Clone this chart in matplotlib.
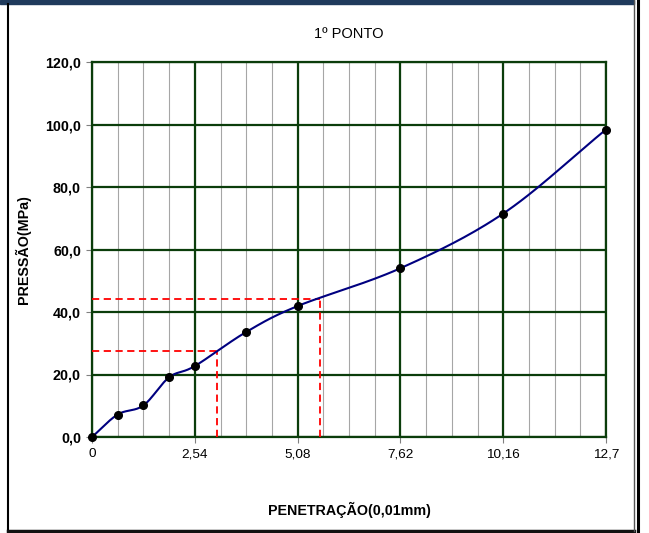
import numpy as np
import matplotlib.pyplot as plt
from matplotlib.lines import Line2D
from matplotlib.patches import Rectangle

plt.rcParams['font.family'] = ['Liberation Sans', 'DejaVu Sans']

# data
penetracao = [0, 0.635, 1.27, 1.905, 2.54, 3.81, 5.08, 7.62, 10.16, 12.7]
pressao = [0.0, 7.2, 10.1, 19.1, 22.7, 33.6, 41.9, 54.0, 71.5, 98.4]
x_ticks = [0, 2.54, 5.08, 7.62, 10.16, 12.7]
x_labels = ['0', '2,54', '5,08', '7,62', '10,16', '12,7']
y_ticks = [0, 20, 40, 60, 80, 100, 120]
y_labels = ['0,0', '20,0', '40,0', '60,0', '80,0', '100,0', '120,0']
ref_x = [3.09, 5.63]
ref_y = [27.4, 44.3]


def smooth(x, y, n=30):
    # catmull-rom style smoothing like the spreadsheet "smoothed line"
    x = np.asarray(x, float)
    y = np.asarray(y, float)
    px = np.concatenate([[2 * x[0] - x[1]], x, [2 * x[-1] - x[-2]]])
    py = np.concatenate([[2 * y[0] - y[1]], y, [2 * y[-1] - y[-2]]])
    xs, ys = [], []
    t = np.linspace(0, 1, n)
    for i in range(1, len(px) - 2):
        p0, p1, p2, p3 = px[i - 1:i + 3]
        q0, q1, q2, q3 = py[i - 1:i + 3]
        c1x, c1y = p1 + (p2 - p0) / 6, q1 + (q2 - q0) / 6
        c2x, c2y = p2 - (p3 - p1) / 6, q2 - (q3 - q1) / 6
        bx = (1 - t) ** 3 * p1 + 3 * (1 - t) ** 2 * t * c1x + 3 * (1 - t) * t ** 2 * c2x + t ** 3 * p2
        by = (1 - t) ** 3 * q1 + 3 * (1 - t) ** 2 * t * c1y + 3 * (1 - t) * t ** 2 * c2y + t ** 3 * q2
        xs.extend(bx)
        ys.extend(by)
    return xs, ys


W, H = 649, 533
fig = plt.figure(figsize=(W / 100, H / 100), dpi=100)

# outer frame like the spreadsheet chart
fig.patches.append(Rectangle((0, 1 - 4 / H), 634 / W, 4 / H, transform=fig.transFigure,
                             color='#1f3a5c', zorder=0))
fig.lines.append(Line2D([8 / W, 8 / W], [1 - 4 / H, 1 - 531 / H], transform=fig.transFigure,
                        color='black', lw=1.5))
fig.lines.append(Line2D([8 / W, 634 / W], [1 - 531 / H, 1 - 531 / H], transform=fig.transFigure,
                        color='#111111', lw=2.5))
fig.lines.append(Line2D([633.5 / W, 633.5 / W], [1, 1 - 531 / H], transform=fig.transFigure,
                        color='#555555', lw=1.0))
fig.lines.append(Line2D([637.5 / W, 637.5 / W], [1, 0], transform=fig.transFigure,
                        color='black', lw=2.2))

ax = fig.add_axes([92 / W, (H - 437) / H, 514 / W, 375 / H])

ax.set_xlim(0, 12.7)
ax.set_ylim(0, 120)

# minor vertical grid
for xm in np.arange(0.635, 12.7, 0.635):
    ax.axvline(xm, color='#a6a6a6', lw=0.8, zorder=1)
for xv in x_ticks:
    ax.axvline(xv, color='#0b3d0b', lw=1.6, zorder=2)
for yv in y_ticks:
    ax.axhline(yv, color='#0b3d0b', lw=1.6, zorder=2)

# reference lines
for rx, ry in zip(ref_x, ref_y):
    ax.plot([0, rx], [ry, ry], color='#ff0000', lw=1.3, ls=(0, (4, 2.5)), zorder=3)
    ax.plot([rx, rx], [0, ry], color='#ff0000', lw=1.3, ls=(0, (4, 2.5)), zorder=3)

sx, sy = smooth(penetracao, pressao)
ax.plot(sx, sy, color='#000080', lw=1.5, zorder=4)
ax.plot(penetracao, pressao, 'o', color='black', ms=5.5, zorder=5, clip_on=False)

for s in ax.spines.values():
    s.set_color('#0b3d0b')
    s.set_linewidth(1.6)

ax.set_xticks(x_ticks)
ax.set_xticklabels(x_labels, fontsize=9.7)
ax.set_yticks(y_ticks)
ax.set_yticklabels(y_labels, fontsize=10.3, fontweight='bold')
ax.tick_params(axis='both', length=4, color='#808080', width=0.8, pad=4)

ax.set_title('1º PONTO', fontsize=10.5, pad=17)
ax.set_ylabel('PRESSÃO(MPa)', fontsize=10.3, fontweight='bold', labelpad=10)
ax.set_xlabel('PENETRAÇÃO(0,01mm)', fontsize=10.3, fontweight='bold', labelpad=30)

fig.savefig('out.png', dpi=100)
